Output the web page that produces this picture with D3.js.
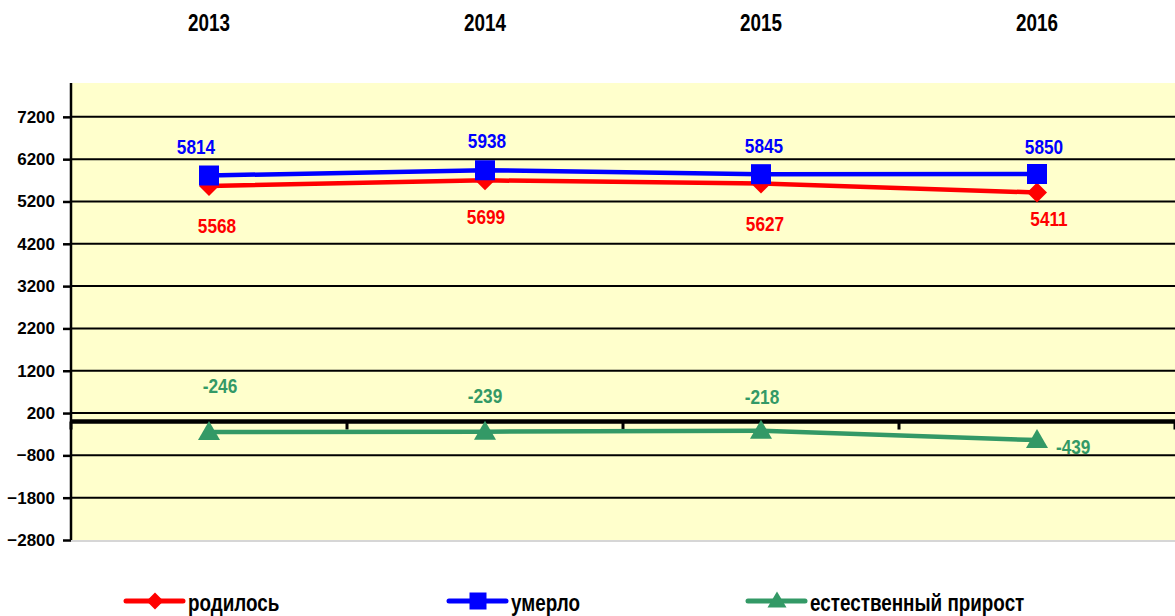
<!DOCTYPE html>
<html>
<head>
<meta charset="utf-8">
<script src="https://cdn.jsdelivr.net/npm/d3@7"></script>
<style>
  body { margin: 0; background: #fff; }
  text { font-family: "Liberation Sans", Arial, sans-serif; font-weight: bold; }
</style>
</head>
<body>
<div id="chart"></div>
<script>
// data
var years = ["2013", "2014", "2015", "2016"];
var born = [5568, 5699, 5627, 5411];
var died = [5814, 5938, 5845, 5850];
var growth = [-246, -239, -218, -439];
var yTicks = [-2800, -1800, -800, 200, 1200, 2200, 3200, 4200, 5200, 6200, 7200];

// label nudges (px) as placed in the original
var bornLabelDx = [8, 1, 4, 12], bornLabelDy = [47, 44, 48, 33];
var diedLabelDx = [-13, 2, 3, 7], diedLabelDy = [-22, -22, -21, -20];
var growthLabelDx = [11, 0, 1, 19], growthLabelDy = [-39, -29, -27, 14];

var svgWidth = 1175;
var svgHeight = 616;
var narrow = 0.82; // horizontal squeeze to mimic Arial Narrow

var margin = { top: 83, right: 0, bottom: 76, left: 71 };
var width = svgWidth - margin.left - margin.right;
var height = svgHeight - margin.top - margin.bottom;

var svg = d3.select("#chart").append("svg")
    .attr("width", svgWidth)
    .attr("height", svgHeight);

var g = svg.append("g")
    .attr("transform", `translate(${margin.left}, ${margin.top})`);

var xBand = d3.scaleBand().domain(years).range([0, width]);
var x = d => xBand(d) + xBand.bandwidth() / 2;

var yScale = d3.scaleLinear()
    .domain([-2800, 8000])
    .range([height, 0]);

// plot background
g.append("rect")
    .attr("width", width)
    .attr("height", height)
    .attr("fill", "#ffffcc");

// bottom border
g.append("line")
    .attr("x1", 0).attr("x2", width)
    .attr("y1", height + 1).attr("y2", height + 1)
    .attr("stroke", "#c8c8c8").attr("stroke-width", 1.5);

// gridlines
g.append("g").selectAll("line")
    .data(yTicks.filter(d => d !== -2800))
    .enter().append("line")
    .attr("x1", 0).attr("x2", width)
    .attr("y1", d => yScale(d)).attr("y2", d => yScale(d))
    .attr("stroke", "#000").attr("stroke-width", 2);

// y axis
var yAxis = d3.axisLeft(yScale).tickValues(yTicks).tickFormat(d3.format("d")).tickSize(8).tickPadding(8);
var yAxisG = g.append("g").call(yAxis);
yAxisG.select(".domain").attr("stroke-width", 2.5)
    .attr("d", `M0,0V${height}`);
yAxisG.selectAll(".tick line").attr("stroke-width", 2.5);
yAxisG.selectAll(".tick text")
    .attr("font-size", 17)
    .attr("font-family", "Liberation Sans, Arial, sans-serif")
    .attr("font-weight", "bold")
    .attr("fill", "#000");

// x axis at zero
var xAxisG = g.append("g").attr("transform", `translate(0, ${yScale(0)})`);
xAxisG.append("line")
    .attr("x1", 0).attr("x2", width)
    .attr("stroke", "#000").attr("stroke-width", 4.5);
xAxisG.selectAll(".xt")
    .data(d3.range(years.length + 1))
    .enter().append("line")
    .attr("x1", i => i * xBand.bandwidth())
    .attr("x2", i => i * xBand.bandwidth())
    .attr("y1", 0).attr("y2", 8)
    .attr("stroke", "#000").attr("stroke-width", 3);

// year labels at the top
svg.append("g").selectAll("text")
    .data(years)
    .enter().append("text")
    .attr("transform", d => `translate(${margin.left + x(d)}, 31) scale(${narrow}, 1)`)
    .attr("text-anchor", "middle")
    .attr("font-size", 23)
    .text(d => d);

var series = [
    { name: "родилось", values: born, color: "#ff0000", marker: "diamond", dx: bornLabelDx, dy: bornLabelDy },
    { name: "умерло", values: died, color: "#0000ff", marker: "square", dx: diedLabelDx, dy: diedLabelDy },
    { name: "естественный прирост", values: growth, color: "#339966", marker: "triangle", dx: growthLabelDx, dy: growthLabelDy }
];

function markerPath(type, s) {
    s = s || 10;
    if (type === "diamond") return `M0,${-s}L${s},0L0,${s}L${-s},0Z`;
    if (type === "square") return `M${-s},${-s}H${s}V${s}H${-s}Z`;
    return `M0,${-s - 1}L${s + 1},${s - 2}H${-s - 1}Z`;
}

var line = d3.line()
    .x((d, i) => x(years[i]))
    .y(d => yScale(d));

series.forEach(function(s) {
    g.append("path")
        .datum(s.values)
        .attr("d", line)
        .attr("fill", "none")
        .attr("stroke", s.color)
        .attr("stroke-width", 4.5);

    g.append("g").selectAll("path")
        .data(s.values)
        .enter().append("path")
        .attr("transform", (d, i) => `translate(${x(years[i])}, ${yScale(d)})`)
        .attr("d", markerPath(s.marker))
        .attr("fill", s.color);
});

// data labels
series.forEach(function(s) {
    var last = s.values.length - 1;
    g.append("g").selectAll("text")
        .data(s.values)
        .enter().append("text")
        .attr("transform", (d, i) =>
            `translate(${x(years[i]) + s.dx[i]}, ${yScale(d) + s.dy[i]}) scale(${narrow}, 1)`)
        .attr("text-anchor", (d, i) => (s.marker === "triangle" && i === last) ? "start" : "middle")
        .attr("font-size", 21)
        .attr("fill", s.color)
        .text(d => d);
});

// legend
var legendX = [126, 449, 748];
var legend = svg.append("g").attr("transform", "translate(0, 601)");
series.forEach(function(s, i) {
    var lg = legend.append("g").attr("transform", `translate(${legendX[i]}, 0)`);
    lg.append("line")
        .attr("x1", 0).attr("x2", 57)
        .attr("stroke", s.color).attr("stroke-width", 5)
        .attr("stroke-linecap", "round");
    lg.append("path")
        .attr("transform", "translate(29, 0)")
        .attr("d", markerPath(s.marker, 8.5))
        .attr("fill", s.color);
    lg.append("text")
        .attr("transform", `translate(62, 10) scale(${narrow}, 1)`)
        .attr("font-size", 23)
        .attr("fill", "#000")
        .text(s.name);
});
</script>
</body>
</html>
